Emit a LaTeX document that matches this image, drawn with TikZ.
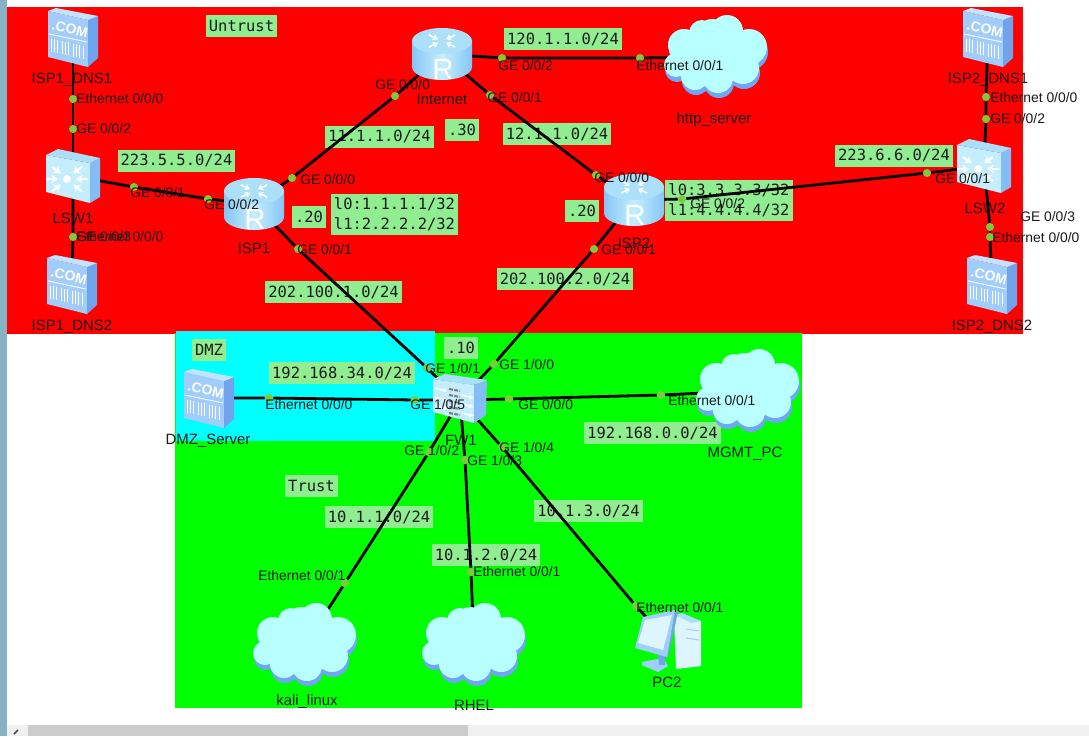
\documentclass[tikz,border=0pt]{standalone}
\usepackage{fontspec}
\setmainfont{Liberation Sans}
\newfontfamily\netfont{DejaVu Sans Mono}
\usepackage{xcolor}
\usepackage{tikz}
\usetikzlibrary{arrows.meta}
\definecolor{netbox}{HTML}{90EE90}
\definecolor{portdot}{HTML}{7CCB3A}
\definecolor{darktext}{HTML}{1A1A1A}
\definecolor{zonered}{HTML}{FF0000}
\definecolor{zonegreen}{HTML}{00FF00}
\definecolor{zonecyan}{HTML}{00FFFF}
\definecolor{iconside}{HTML}{6FA4EC}
\definecolor{iconfront}{HTML}{A0CDFB}
\definecolor{icontop}{HTML}{C2E2FF}
\definecolor{boxfront}{HTML}{C4EEFD}
\definecolor{boxside}{HTML}{84BCF5}
\definecolor{boxtop}{HTML}{A9DFFB}
\definecolor{routeredge}{HTML}{86C6F5}
\definecolor{routermid}{HTML}{C6EEFE}
\definecolor{routertop}{HTML}{ACE0F9}
\definecolor{cloudtop}{HTML}{B8FFFF}
\definecolor{cloudlow}{HTML}{6FA6F5}

\begin{document}
\begin{tikzpicture}[
        x=0.75pt, y=-0.75pt,
        device/.style={inner sep=0pt, minimum size=22pt},
        dot/.style={circle, fill=portdot, inner sep=0pt, minimum size=6pt},
        wire/.style={draw=black, line width=2.1pt},
        portlabel/.style={anchor=west, inner sep=0pt, text=darktext, text height=8pt, text depth=2pt,
          font=\fontsize{10.4}{12}\selectfont},
        devlabel/.style={inner sep=0pt, text=darktext, text height=8pt, text depth=2pt,
          font=\fontsize{11.2}{13}\selectfont},
        subnet/.style={fill=netbox, text=darktext, inner xsep=2.25pt, inner ysep=0pt, minimum height=16.5pt,
          font=\netfont\fontsize{11.6}{15}\selectfont},
        comserver/.pic={
          \fill[iconfront] (-25,-26) -- (15,-17) -- (15,30) -- (-25,20) -- cycle;
          \fill[iconside] (15,-17) -- (25,-21) -- (25,21) -- (15,30) -- cycle;
          \fill[icontop] (-25,-26) -- (-17,-29) -- (25,-21) -- (15,-17) -- cycle;
          \foreach \sx in {-22,-19,-16,-11,-8,-5,0,3,6,10}
            \draw[white, line width=0.6pt] (\sx,{1+0.22*(\sx+25)}) -- (\sx,{14+0.22*(\sx+25)});
          \draw[white, line width=0.7pt] (-24,-3) -- (14,5);
          \node[text=white, inner sep=0pt, rotate=-12, font=\bfseries\fontsize{10.5}{12}\selectfont] (com) at (-3,-8) {.COM};
        },
        router/.pic={
          \shade[left color=routeredge, right color=routeredge, middle color=routermid]
            (-30,-13) -- (-30,13) arc[start angle=180, end angle=0, x radius=30, y radius=13]
            -- (30,-13) -- cycle;
          \fill[routertop] (0,-13) ellipse[x radius=30, y radius=13];
          \foreach \sx/\sy in {-13/-7,13/-7,-13/-19,13/-19}
            \draw[white, line width=1.2pt, -{Stealth[length=4pt,width=5pt]}] (\sx,\sy) -- ({0.3*\sx},{-13+0.3*(\sy+13)});
          \node[text=white, inner sep=0pt, font=\fontsize{22}{22}\selectfont] (r) at (1,15) {R};
        },
        switch/.pic={
          \fill[boxfront] (-27,-21) -- (17,-13) -- (17,27) -- (-27,16) -- cycle;
          \fill[boxside] (17,-13) -- (27,-18) -- (27,21) -- (17,27) -- cycle;
          \fill[boxtop] (-27,-21) -- (-15,-27) -- (27,-18) -- (17,-13) -- cycle;
          \foreach \a in {0,45,135,180,225,315}
            \draw[white, line width=1.7pt, -{Stealth[length=5pt,width=6.5pt]}]
              ({-6+21*cos(\a)},{3+17*sin(\a)}) -- ({-6+9*cos(\a)},{3+8*sin(\a)});
          \fill[white] (-6,3) circle[radius=4];
        },
        firewall/.pic={
          \fill[boxfront] (-27,-21) -- (14,-15) -- (14,23) -- (-27,12) -- cycle;
          \fill[boxside] (14,-15) -- (27,-20) -- (26,15) -- (14,23) -- cycle;
          \fill[boxtop] (-27,-21) -- (-15,-26) -- (27,-20) -- (14,-15) -- cycle;
          \foreach \sy in {-11,-5,1,7,13}
            \draw[black!50, line width=1.6pt, dash pattern=on 3pt off 1pt] (-11,\sy) -- (0,{\sy+2});
          \foreach \sy in {-12,-3,6} {
            \draw[white, line width=1pt, -{Stealth[length=3pt,width=3.5pt]}] (-25,\sy) -- (-13,{\sy+3});
            \draw[white, line width=1pt, -{Stealth[length=3pt,width=3.5pt]}] (2,{\sy+7}) -- (13,{\sy+10});
          }
        },
        netcloud/.pic={
          \foreach \sx/\sy/\sr in {11/-26/16,-4/-24/14,-14/-24/13,-32/-12/16,-40/8/12,-21/19/14,2/21/15,27/11/16,33/-10/18} {
            \fill[cloudlow] ({\sx+1},{\sy+5}) circle[radius=\sr];
          }
          \foreach \sx/\sy/\sr in {11/-26/16,-4/-24/14,-14/-24/13,-32/-12/16,-40/8/12,-21/19/14,2/21/15,27/11/16,33/-10/18} {
            \fill[cloudtop] (\sx,\sy) circle[radius=\sr];
          }
          \fill[cloudtop] (0,-1) ellipse[x radius=40, y radius=27];
        },
        desktop/.pic={
          \fill[routermid!60!white] (6,-26) -- (33,-20) -- (33,25) -- (8,28) -- cycle;
          \fill[boxtop] (6,-26) -- (14,-28) -- (33,-20) -- (24,-18) -- cycle;
          \draw[iconfront, line width=0.7pt] (18,-12) -- (31,-10);
          \draw[iconfront, line width=0.7pt] (18,-3) -- (31,-1);
          \fill[iconfront] (-26,21) -- (-5,17) -- (0,25) -- (-10,31) -- (-26,24) -- cycle;
          \fill[iconside] (-10,13) -- (-3,15) -- (-3,24) -- (-9,24) -- cycle;
          \fill[iconside] (7,-31) -- (10,-29) -- (0,16) -- (-1,16) -- cycle;
          \fill[iconfront] (-25,-24) -- (7,-31) -- (-1,16) -- (-33,7) -- cycle;
          \fill[routermid!60!white] (-23,-21) -- (4,-26) -- (-5,9) -- (-30,2) -- cycle;
        }
      ]
        \useasboundingbox (0,0) rectangle (1089,736);
        % Window edge and scroll bar
        \fill[white] (0,0) rectangle (1089,736);
        \fill[blue!30!cyan!35!gray!70] (0,0) rectangle (7,736);
        \fill[black!6] (7,725) rectangle (1089,736);
        \fill[black!20] (28,725) rectangle (468,736);
        \draw[black!70, line width=1.2pt] (18,730) -- (14,734);
        % Zones
        \fill[zonered] (7,7) rectangle (1023,334);
        \fill[zonegreen] (175,333) rectangle (802,708);
        \fill[zonecyan] (176,331) rectangle (435,441);

        % Zone and subnet labels
        \node[subnet] (untrust) at (241.5,25.5) {Untrust};
        \node[subnet] (dmzzone) at (209,349.5) {DMZ};
        \node[subnet] (trust) at (311.5,486) {Trust};
        \node[subnet] (net1) at (176.5,160.5) {223.5.5.0/24};
        \node[subnet] (net2) at (379.5,136.5) {11.1.1.0/24};
        \node[subnet] (net3) at (563,39) {120.1.1.0/24};
        \node[subnet] (net4) at (557,134) {12.1.1.0/24};
        \node[subnet] (net5) at (894,155.5) {223.6.6.0/24};
        \node[subnet] (net6) at (333.5,292) {202.100.1.0/24};
        \node[subnet] (net7) at (565,279) {202.100.2.0/24};
        \node[subnet] (net8) at (342,373) {192.168.34.0/24};
        \node[subnet] (net9) at (652.5,433) {192.168.0.0/24};
        \node[subnet] (net10) at (379,517) {10.1.1.0/24};
        \node[subnet] (net11) at (486,555) {10.1.2.0/24};
        \node[subnet] (net12) at (588.5,511) {10.1.3.0/24};
        \node[subnet] (ip1) at (462,129.5) {.30};
        \node[subnet] (ip2) at (309,217) {.20};
        \node[subnet] (ip3) at (582,210.5) {.20};
        \node[subnet] (ip4) at (461,348) {.10};
        \node[subnet, align=left, minimum height=30.75pt] (loop1) at (394.5,214.5) {l0:1.1.1.1/32\\l1:2.2.2.2/32};
        \node[subnet, align=left, minimum height=30.75pt] (loop2) at (729,200.5) {l0:3.3.3.3/32\\l1:4.4.4.4/32};

        % Devices
        \node[device] (isp1dns1) at (73,37) {};
        \node[device] (lsw1) at (73,176) {};
        \node[device] (isp1dns2) at (72,284) {};
        \node[device] (isp1) at (254,204) {};
        \node[device] (inet) at (442,54) {};
        \node[device] (http) at (716,57) {};
        \node[device] (isp2dns1) at (988,37) {};
        \node[device] (lsw2) at (984,166) {};
        \node[device] (isp2dns2) at (992,284) {};
        \node[device] (isp2) at (634,200) {};
        \node[device] (fw1) at (460,400) {};
        \node[device] (dmz) at (209,398) {};
        \node[device] (mgmt) at (748,391) {};
        \node[device] (kali) at (305,645) {};
        \node[device] (rhel) at (474,645) {};
        \node[device] (pc2) at (668,641) {};

        % Ports
        \node[dot] (dns1eth) at (73,99) {};
        \node[dot] (lsw1g2) at (73,129) {};
        \node[dot] (lsw1g3) at (73,237) {};
        \node[dot] (lsw1g1) at (134,187) {};
        \node[dot] (isp1g2) at (208,199) {};
        \node[dot] (isp1g0) at (292,178) {};
        \node[dot] (inetg0) at (395,96) {};
        \node[dot] (isp1g1) at (298,249) {};
        \node[dot] (fwg1) at (427,368) {};
        \node[dot] (inetg2) at (502,58) {};
        \node[dot] (httpeth) at (640,58) {};
        \node[dot] (inetg1) at (490,95) {};
        \node[dot] (isp2g0) at (596,175) {};
        \node[dot] (isp2g2) at (682,199) {};
        \node[dot] (lsw2g1) at (927,173) {};
        \node[dot] (isp2g1) at (594,249) {};
        \node[dot] (fwg0) at (494,364) {};
        \node[dot] (dns3eth) at (986,97) {};
        \node[dot] (lsw2g2) at (986,119) {};
        \node[dot] (lsw2g3) at (990,227) {};
        \node[dot] (dns4eth) at (990,237) {};
        \node[dot] (dmzeth) at (269,398) {};
        \node[dot] (fwg5) at (415,400) {};
        \node[dot] (fwm0) at (509,399) {};
        \node[dot] (mgmteth) at (661,395) {};
        \node[dot] (fwg2) at (429,452) {};
        \node[dot] (kalieth) at (345,583) {};
        \node[dot] (fwg3) at (465,460) {};
        \node[dot] (rheleth) at (471,572) {};
        \node[dot] (fwg4) at (502,447) {};
        \node[dot] (pc2eth) at (636,606) {};

        % Connections
        \draw[wire] (isp1dns1) -- (dns1eth) -- (lsw1g2) -- (lsw1);
        \draw[wire] (lsw1) -- (lsw1g3) -- (isp1dns2);
        \draw[wire] (lsw1) -- (lsw1g1) -- (isp1g2) -- (isp1);
        \draw[wire] (isp1) -- (isp1g0) -- (inetg0) -- (inet);
        \draw[wire] (isp1) -- (isp1g1) -- (fwg1) -- (fw1);
        \draw[wire] (inet) -- (inetg2) -- (httpeth) -- (http);
        \draw[wire] (inet) -- (inetg1) -- (isp2g0) -- (isp2);
        \draw[wire] (isp2) -- (isp2g2) -- (lsw2g1) -- (lsw2);
        \draw[wire] (isp2) -- (isp2g1) -- (fwg0) -- (fw1);
        \draw[wire] (isp2dns1) -- (dns3eth) -- (lsw2g2) -- (lsw2);
        \draw[wire] (lsw2) -- (lsw2g3) -- (dns4eth) -- (isp2dns2);
        \draw[wire] (dmz) -- (dmzeth) -- (fwg5) -- (fw1);
        \draw[wire] (fw1) -- (fwm0) -- (mgmteth) -- (mgmt);
        \draw[wire] (fw1) -- (fwg2) -- (kalieth) -- (kali);
        \draw[wire] (fw1) -- (fwg3) -- (rheleth) -- (rhel);
        \draw[wire] (fw1) -- (fwg4) -- (pc2eth) -- (pc2);

        % Icons
        \pic (icon1) at (isp1dns1) {comserver};
        \pic (icon2) at (isp1dns2) {comserver};
        \pic (icon3) at (isp2dns1) {comserver};
        \pic (icon4) at (isp2dns2) {comserver};
        \pic (icon5) at (dmz) {comserver};
        \pic at (lsw1) {switch};
        \pic at (lsw2) {switch};
        \pic (icon6) at (isp1) {router};
        \pic (icon7) at (inet) {router};
        \pic (icon8) at (isp2) {router};
        \pic at (fw1) {firewall};
        \pic at (http) {netcloud};
        \pic at (mgmt) {netcloud};
        \pic at (kali) {netcloud};
        \pic at (rhel) {netcloud};
        \pic at (pc2) {desktop};

        % Device names
        \node[devlabel] (isp1dns1name) at (72,79) {ISP1\_DNS1};
        \node[devlabel] (lsw1name) at (73,219) {LSW1};
        \node[devlabel] (isp1dns2name) at (72,326) {ISP1\_DNS2};
        \node[devlabel] (isp1name) at (254,249) {ISP1};
        \node[devlabel] (inetname) at (442,100) {Internet};
        \node[devlabel] (httpname) at (714,119) {http\_server};
        \node[devlabel] (isp2dns1name) at (988,79) {ISP2\_DNS1};
        \node[devlabel] (lsw2name) at (985,209) {LSW2};
        \node[devlabel] (isp2dns2name) at (992,326) {ISP2\_DNS2};
        \node[devlabel] (isp2name) at (634,244) {ISP2};
        \node[devlabel] (fw1name) at (461,441) {FW1};
        \node[devlabel] (dmzname) at (208,440) {DMZ\_Server};
        \node[devlabel] (mgmtname) at (745,453) {MGMT\_PC};
        \node[devlabel] (kaliname) at (307,701) {kali\_linux};
        \node[devlabel] (rhelname) at (474,706) {RHEL};
        \node[devlabel] (pc2name) at (667,683) {PC2};

        % Port names
        \node[portlabel] (tdns1eth) at (76,99) {Ethernet 0/0/0};
        \node[portlabel] (tlsw1g2) at (76,129) {GE 0/0/2};
        \node[portlabel] (tlsw1g3) at (76,237) {GE 0/0/3};
        \node[portlabel] (tdns2eth) at (76,237) {Ethernet 0/0/0};
        \node[portlabel] (tlsw1g1) at (130,193) {GE 0/0/1};
        \node[portlabel] (tisp1g2) at (204,205) {GE 0/0/2};
        \node[portlabel] (tisp1g0) at (300,180) {GE 0/0/0};
        \node[portlabel] (tinetg0) at (375,85) {GE 0/0/0};
        \node[portlabel] (tisp1g1) at (297,250) {GE 0/0/1};
        \node[portlabel] (tfwg1) at (425,369) {GE 1/0/1};
        \node[portlabel] (tinetg2) at (498,66) {GE 0/0/2};
        \node[portlabel] (thttpeth) at (636,66) {Ethernet 0/0/1};
        \node[portlabel] (tinetg1) at (487,98) {GE 0/0/1};
        \node[portlabel] (tisp2g0) at (594,178) {GE 0/0/0};
        \node[portlabel] (tisp2g2) at (690,204) {GE 0/0/2};
        \node[portlabel] (tlsw2g1) at (935,179) {GE 0/0/1};
        \node[portlabel] (tisp2g1) at (601,250) {GE 0/0/1};
        \node[portlabel] (tfwg0) at (499,365) {GE 1/0/0};
        \node[portlabel] (tdns3eth) at (990,98) {Ethernet 0/0/0};
        \node[portlabel] (tlsw2g2) at (990,119) {GE 0/0/2};
        \node[portlabel] (tlsw2g3) at (1020,217) {GE 0/0/3};
        \node[portlabel] (tdns4eth) at (992,238) {Ethernet 0/0/0};
        \node[portlabel] (tdmzeth) at (265,405) {Ethernet 0/0/0};
        \node[portlabel] (tfwg5) at (410,405) {GE 1/0/5};
        \node[portlabel] (tfwm0) at (518,405) {GE 0/0/0};
        \node[portlabel] (tmgmteth) at (668,401) {Ethernet 0/0/1};
        \node[portlabel] (tfwg2) at (404,451) {GE 1/0/2};
        \node[portlabel] (tkalieth) at (258,576) {Ethernet 0/0/1};
        \node[portlabel] (tfwg3) at (467,461) {GE 1/0/3};
        \node[portlabel] (trheleth) at (473,572) {Ethernet 0/0/1};
        \node[portlabel] (tfwg4) at (499,448) {GE 1/0/4};
        \node[portlabel] (tpc2eth) at (636,608) {Ethernet 0/0/1};
      \end{tikzpicture}
\end{document}
